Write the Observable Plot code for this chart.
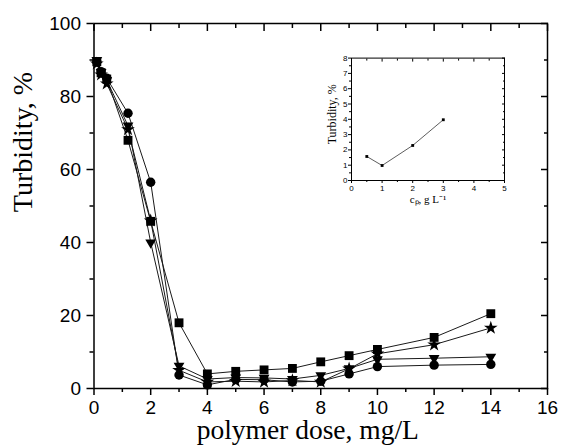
<!DOCTYPE html>
<html>
<head>
<meta charset="utf-8">
<script src="https://cdn.jsdelivr.net/npm/d3@7"></script>
<script src="https://cdn.jsdelivr.net/npm/@observablehq/plot@0.6"></script>
<style>
  html, body { margin: 0; padding: 0; background: white; }
  #wrap { position: relative; width: 561px; height: 445px; }
  #inset { position: absolute; left: 300px; top: 40px; }
</style>
</head>
<body>
<div id="wrap"><div id="main"></div><div id="inset"></div></div>
<script>
// ---- main chart data ----
const doses = [0.1, 0.25, 0.45, 1.2, 2, 3, 4, 5, 6, 7, 8, 9, 10, 12, 14];
const squareSeries   = [89.5, 86.5, 84.8, 68.0, 45.8, 18.0, 4.0, 4.7, 5.1, 5.5, 7.3, 9.0, 10.7, 14.0, 20.5];
const circleSeries   = [89.5, 86.8, 85.0, 75.4, 56.5, 3.7, 1.0, 2.5, 2.4, 1.8, 2.0, 4.0, 6.0, 6.4, 6.6];
const triangleSeries = [90.0, 86.7, 84.5, 72.0, 40.0, 6.2, 2.6, 3.0, 2.9, 2.6, 3.6, 5.5, 8.0, 8.3, 8.7];
const starSeries     = [89.0, 86.0, 83.5, 71.0, 46.0, 5.0, 1.8, 2.0, 1.8, 2.2, 1.8, 5.4, 9.5, 12.0, 16.6];

const xMajorTicks = [0, 2, 4, 6, 8, 10, 12, 14, 16];
const xMinorTicks = [1, 3, 5, 7, 9, 11, 13, 15];
const yMajorTicks = [0, 20, 40, 60, 80, 100];
const yMinorTicks = [10, 30, 50, 70, 90];

// ---- inset data ----
const insetDoses = [0.5, 1, 2, 3];
const insetTurbidity = [1.57, 0.98, 2.29, 3.97];
const insetXTicks = [0, 1, 2, 3, 4, 5];
const insetXMinor = [0.5, 1.5, 2.5, 3.5, 4.5];
const insetYTicks = [0, 1, 2, 3, 4, 5, 6, 7, 8];
const insetYMinor = [0.5, 1.5, 2.5, 3.5, 4.5, 5.5, 6.5, 7.5];

const toRows = vals => doses.map((d, i) => ({dose: d, value: vals[i]}));
const seriesDefs = [
  {rows: toRows(squareSeries), symbol: "square", r: 5, rotate: 0},
  {rows: toRows(circleSeries), symbol: "circle", r: 4.7, rotate: 0},
  {rows: toRows(triangleSeries), symbol: "triangle", r: 4.0, rotate: 180},
  {rows: toRows(starSeries), symbol: "star", r: 4.3, rotate: 0}
];

const blank = () => "";
const serif = "'Liberation Serif', 'Times New Roman', serif";
const sans = "'Liberation Sans', Arial, sans-serif";

const lineMarks = seriesDefs.map(s => Plot.line(s.rows, {x: "dose", y: "value", stroke: "#1a1a1a", strokeWidth: 1}));
const dotMarks = seriesDefs.map(s => Plot.dot(s.rows, {x: "dose", y: "value", symbol: s.symbol, r: s.r, rotate: s.rotate, fill: "black", stroke: "none"}));

const main = Plot.plot({
  width: 561, height: 445,
  marginLeft: 93.5, marginRight: 14, marginTop: 23, marginBottom: 57,
  x: {domain: [0, 16], label: null},
  y: {domain: [0, 100], label: null},
  style: {fontFamily: sans, fontSize: "19px", color: "black", background: "white", overflow: "visible"},
  marks: [
    ...lineMarks,
    ...dotMarks,
    Plot.frame({stroke: "black", strokeWidth: 1.5}),
    Plot.axisX(xMajorTicks, {anchor: "bottom", tickSize: 7, tickPadding: 5, strokeWidth: 1.5, fontSize: 19, label: null}),
    Plot.axisX(xMinorTicks, {anchor: "bottom", tickSize: 4, strokeWidth: 1.5, tickFormat: blank, label: null}),
    Plot.axisX(xMajorTicks, {anchor: "top", tickSize: 7, dy: 7, strokeWidth: 1.5, tickFormat: blank, label: null}),
    Plot.axisX(xMinorTicks, {anchor: "top", tickSize: 4, dy: 4, strokeWidth: 1.5, tickFormat: blank, label: null}),
    Plot.axisY(yMajorTicks, {anchor: "left", tickSize: 7, tickPadding: 6, strokeWidth: 1.5, fontSize: 19, label: null}),
    Plot.axisY(yMinorTicks, {anchor: "left", tickSize: 4, strokeWidth: 1.5, tickFormat: blank, label: null}),
    Plot.axisY(yMajorTicks, {anchor: "right", tickSize: 7, dx: -7, strokeWidth: 1.5, tickFormat: blank, label: null}),
    Plot.axisY(yMinorTicks, {anchor: "right", tickSize: 4, dx: -4, strokeWidth: 1.5, tickFormat: blank, label: null}),
    Plot.text(["polymer dose, mg/L"], {frameAnchor: "bottom", lineAnchor: "middle", textAnchor: "middle", dx: -13, dy: 42, fontFamily: serif, fontSize: 27.5, fill: "black"}),
    Plot.text(["Turbidity, %"], {frameAnchor: "left", lineAnchor: "middle", textAnchor: "middle", rotate: -90, dx: -71, dy: -64, fontFamily: serif, fontSize: 28, fill: "black"})
  ]
});
document.getElementById("main").appendChild(main);

const insetRows = insetDoses.map((d, i) => ({c: d, t: insetTurbidity[i]}));
const inset = Plot.plot({
  width: 215, height: 175,
  marginLeft: 51, marginRight: 11, marginTop: 17.6, marginBottom: 35,
  x: {domain: [0, 5], label: null},
  y: {domain: [0, 8], label: null},
  style: {fontFamily: sans, fontSize: "8px", color: "black", background: "transparent", overflow: "visible"},
  marks: [
    Plot.line(insetRows, {x: "c", y: "t", stroke: "#333", strokeWidth: 0.8}),
    Plot.dot(insetRows, {x: "c", y: "t", symbol: "square", r: 1.6, fill: "black", stroke: "none"}),
    Plot.frame({stroke: "black", strokeWidth: 1}),
    Plot.axisX(insetXTicks, {anchor: "bottom", tickSize: 3, tickPadding: 2, fontSize: 8, label: null}),
    Plot.axisX(insetXMinor, {anchor: "bottom", tickSize: 2, tickFormat: blank, label: null}),
    Plot.axisX(insetXTicks, {anchor: "top", tickSize: 3, dy: 3, tickFormat: blank, label: null}),
    Plot.axisX(insetXMinor, {anchor: "top", tickSize: 2, dy: 2, tickFormat: blank, label: null}),
    Plot.axisY(insetYTicks, {anchor: "left", tickSize: 3, tickPadding: 1, fontSize: 8, label: null}),
    Plot.axisY(insetYMinor, {anchor: "left", tickSize: 2, tickFormat: blank, label: null}),
    Plot.axisY(insetYTicks, {anchor: "right", tickSize: 3, dx: -3, tickFormat: blank, label: null}),
    Plot.axisY(insetYMinor, {anchor: "right", tickSize: 2, dx: -2, tickFormat: blank, label: null}),
    Plot.text(["cₚ, g L⁻¹"], {frameAnchor: "bottom", lineAnchor: "middle", textAnchor: "middle", dy: 19, fontFamily: serif, fontSize: 11, fill: "black"}),
    Plot.text(["Turbidity, %"], {frameAnchor: "left", lineAnchor: "middle", textAnchor: "middle", rotate: -90, dx: -19, dy: -5, fontFamily: serif, fontSize: 12, fill: "black"})
  ]
});
document.getElementById("inset").appendChild(inset);
</script>
</body>
</html>
